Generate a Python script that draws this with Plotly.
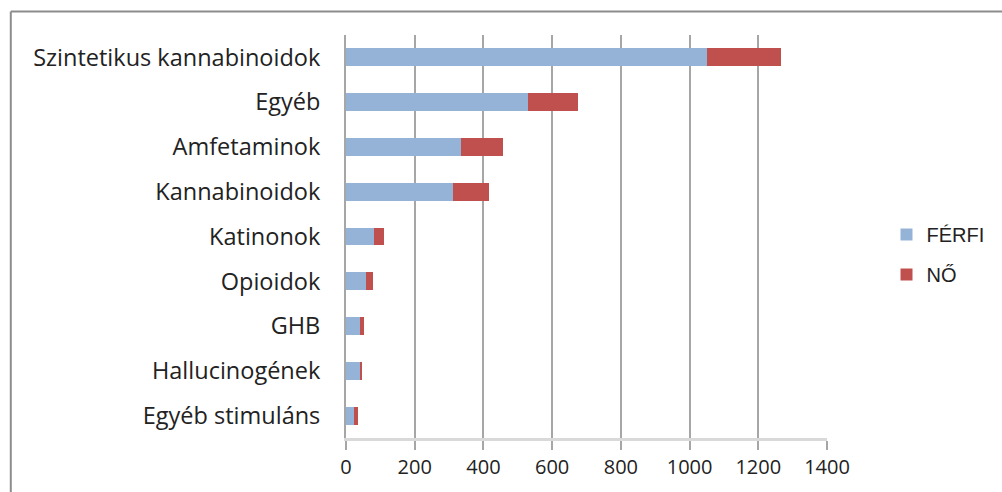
import plotly.graph_objects as go

categories = ["Szintetikus kannabinoidok", "Egyéb", "Amfetaminok", "Kannabinoidok",
              "Katinonok", "Opioidok", "GHB", "Hallucinogének", "Egyéb stimuláns"]
ferfi = [1052, 530, 334, 311, 81, 58, 40, 40, 23]
no = [214, 145, 124, 105, 31, 20, 12, 6, 12]
x_ticks = [0, 200, 400, 600, 800, 1000, 1200, 1400]

W, H = 1002, 492
L, R, T, B = 346, 171, 35, 47
pw, ph = W - L - R, H - T - B

def px(x):
    return (x - L) / pw

def py(y):
    return (H - B - y) / ph

fig = go.Figure()
fig.add_trace(go.Bar(y=categories, x=ferfi, name="FÉRFI", orientation="h",
                     marker=dict(color="#95B3D7", line=dict(width=0)), legendgroup="a"))
fig.add_trace(go.Bar(y=categories, x=no, name="NŐ", orientation="h",
                     marker=dict(color="#C0504D", line=dict(width=0)), legendgroup="b"))

fig.update_layout(
    width=W, height=H,
    margin=dict(l=L, r=R, t=T, b=B, pad=0),
    barmode="stack", bargap=0.6,
    plot_bgcolor="white", paper_bgcolor="white",
    font=dict(family="Open Sans, Liberation Sans, sans-serif", color="#222222"),
    showlegend=True,
    legend=dict(x=px(891), y=py(218), xanchor="left", yanchor="top",
                font=dict(size=20, family="Liberation Sans, sans-serif", color="#222"),
                traceorder="grouped", tracegroupgap=11, bgcolor="rgba(0,0,0,0)"),
    xaxis=dict(range=[0, 1400], tickvals=x_ticks, ticktext=[str(v) for v in x_ticks],
               showgrid=True, gridcolor="#a6a6a6", gridwidth=1.5,
               ticks="outside", ticklen=9, tickcolor="#a6a6a6", tickwidth=1.5,
               tickfont=dict(size=20, family="Open Sans, Liberation Sans, sans-serif", color="#222"),
               showline=True, linecolor="#d9d9d9", linewidth=3, zeroline=False,
               fixedrange=True),
    yaxis=dict(categoryorder="array", categoryarray=categories, autorange="reversed",
               tickfont=dict(size=23.5, color="#222"),
               ticks="", ticklabelstandoff=19,
               showline=True, linecolor="#a6a6a6", linewidth=2, showgrid=False,
               fixedrange=True),
)

# outer frame (top and left edges visible)
fig.add_shape(type="line", xref="paper", yref="paper",
              x0=px(8), x1=px(1010), y0=py(11), y1=py(11),
              line=dict(color="#8c8c8c", width=2))
fig.add_shape(type="line", xref="paper", yref="paper",
              x0=px(8), x1=px(8), y0=py(11), y1=py(500),
              line=dict(color="#8c8c8c", width=2))

fig.write_html("out.html", config={"displayModeBar": False},
               post_script="document.body.style.margin='0';document.body.style.overflow='hidden';")
